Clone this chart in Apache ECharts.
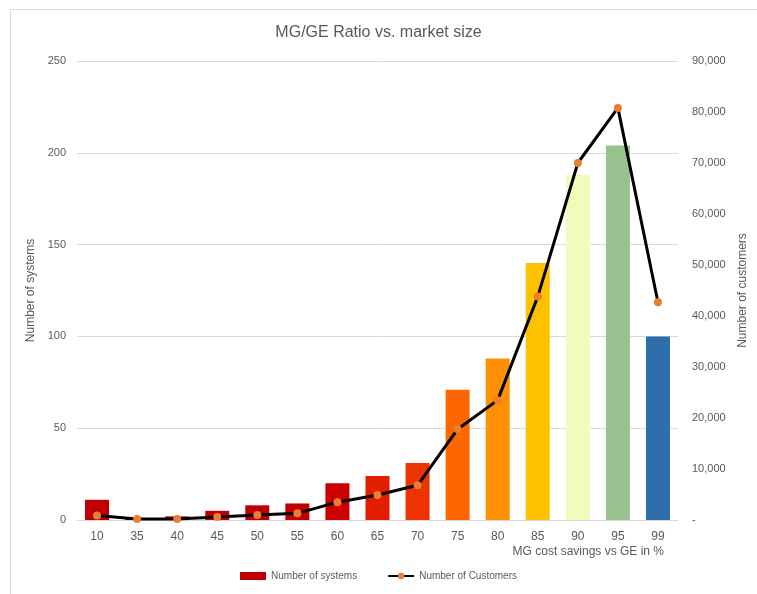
<!DOCTYPE html>
<html>
<head>
<meta charset="utf-8">
<script src="https://cdn.jsdelivr.net/npm/echarts@6/dist/echarts.min.js"></script>
<style>html,body{margin:0;padding:0;background:#fff;}#c{width:757px;height:594px;}</style>
</head>
<body>
<div id="c"></div>
<script>
const categories = ['10','35','40','45','50','55','60','65','70','75','80','85','90','95','99'];
const systems = [11, 1, 2, 5, 8, 9, 20, 24, 31, 71, 88, 140, 188, 204, 100];
const customers = [900, 200, 200, 600, 1000, 1300, 3500, 4900, 6800, 17800, 23500, 43800, 70000, 80800, 42700];
const barColors = ['#C00000','#C00000','#C00000','#C00000','#C00000','#C00000','#CC0000','#E41C00','#EE3300','#FF6600','#FF9000','#FFC000','#EFFCBC','#97C28E','#2E6EAA'];
const leftTicks = [0, 50, 100, 150, 200, 250];
const rightTicks = [0, 10000, 20000, 30000, 40000, 50000, 60000, 70000, 80000, 90000];

const font = 'Liberation Sans, Arial, sans-serif';
const grey = '#595959';
const chart = echarts.init(document.getElementById('c'));
chart.setOption({
  backgroundColor: '#fff',
  animation: false,
  title: {
    text: 'MG/GE Ratio vs. market size',
    left: 'center', top: 20,
    textStyle: { fontFamily: font, fontSize: 16, fontWeight: 'normal', color: grey }
  },
  graphic: [
    { type: 'rect', shape: { x: 10.5, y: 9.5, width: 800, height: 700 }, style: { fill: 'none', stroke: '#d9d9d9', lineWidth: 1 }, silent: true, z: -1 },
    { type: 'text', right: 93, top: 546, style: { text: 'MG cost savings vs GE in %', fontFamily: font, fontSize: 12, fill: grey, textAlign: 'right' } }
  ],
  legend: {
    bottom: 8, left: 'center', itemGap: 30,
    itemWidth: 26, itemHeight: 8,
    textStyle: { fontFamily: font, fontSize: 10, color: grey },
    data: [
      { name: 'Number of systems', icon: 'rect', itemStyle: { color: '#C00000' } },
      { name: 'Number of Customers' }
    ]
  },
  grid: { left: 77, right: 79, top: 61, bottom: 74, containLabel: false },
  xAxis: {
    type: 'category', data: categories,
    axisLine: { lineStyle: { color: '#d9d9d9' } },
    axisTick: { show: false },
    axisLabel: { color: grey, fontFamily: font, fontSize: 12, margin: 11 }
  },
  yAxis: [
    {
      type: 'value', min: 0, max: 250, interval: 50,
      name: 'Number of systems', nameLocation: 'middle', nameGap: 40,
      nameTextStyle: { color: grey, fontFamily: font, fontSize: 12 },
      axisLine: { show: false }, axisTick: { show: false },
      axisLabel: { color: grey, fontFamily: font, fontSize: 11, margin: 11 },
      splitLine: { lineStyle: { color: '#d9d9d9' } }
    },
    {
      type: 'value', min: 0, max: 90000, interval: 10000,
      name: 'Number of customers', nameLocation: 'middle', nameGap: 58,
      nameTextStyle: { color: grey, fontFamily: font, fontSize: 12 },
      axisLine: { show: false }, axisTick: { show: false },
      axisLabel: {
        color: grey, fontFamily: font, fontSize: 11, margin: 14,
        formatter: v => v === 0 ? '-' : v.toLocaleString('en-US')
      },
      splitLine: { show: false }
    }
  ],
  series: [
    {
      name: 'Number of systems', type: 'bar', yAxisIndex: 0, barWidth: 24,
      data: systems.map((v, i) => ({ value: v, itemStyle: { color: barColors[i] } })),
      itemStyle: { color: '#C00000' }
    },
    {
      name: 'Number of Customers', type: 'line', yAxisIndex: 1,
      data: customers,
      symbol: 'circle', symbolSize: 8,
      lineStyle: { color: '#000', width: 3 },
      itemStyle: { color: '#ED7D31', borderWidth: 0 }
    }
  ]
});
</script>
</body>
</html>
